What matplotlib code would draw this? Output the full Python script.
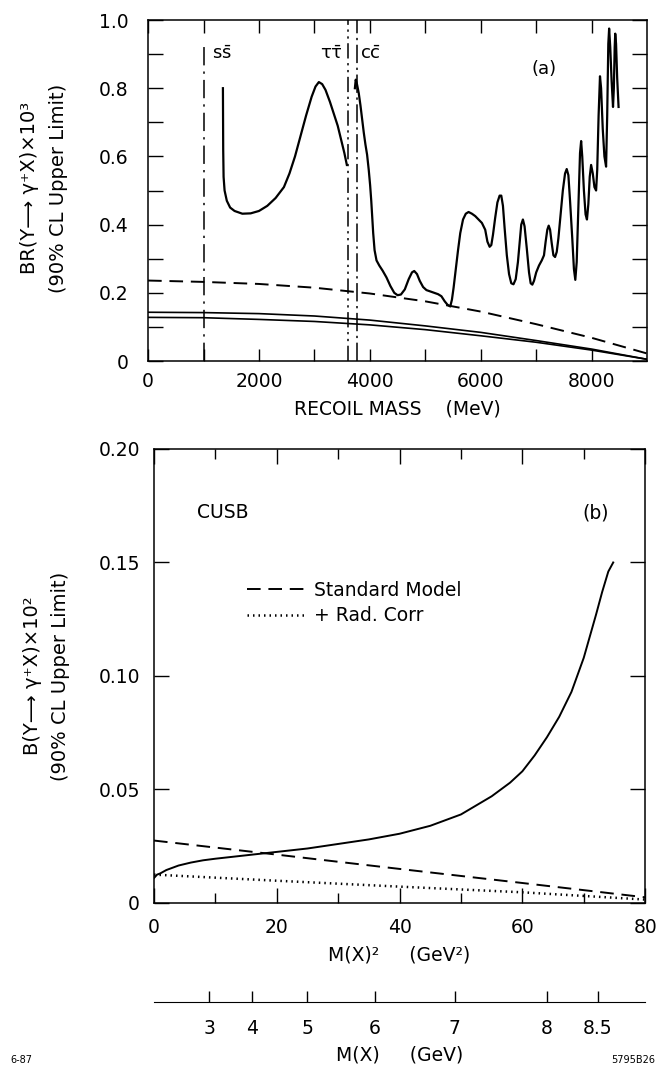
import matplotlib
matplotlib.use('Agg')
import matplotlib.pyplot as plt
import numpy as np

plt.rcParams['font.family'] = ['DejaVu Sans']
plt.rcParams['mathtext.fontset'] = 'dejavusans'

# ---- panel (a): recoil mass spectrum limit ----
# solid limit curve, piece between s-sbar and tau threshold
mass_a1 = [1350, 1355, 1362, 1380, 1420, 1480, 1560, 1700, 1850, 2000, 2150, 2300, 2450, 2550,
           2650, 2750, 2850, 2950, 3020, 3080, 3140, 3200, 3280, 3360, 3420, 3480, 3540, 3585]
br_a1 = [0.80, 0.62, 0.54, 0.50, 0.47, 0.45, 0.44, 0.432, 0.433, 0.44, 0.455, 0.478, 0.51, 0.55,
         0.60, 0.66, 0.72, 0.775, 0.805, 0.818, 0.812, 0.795, 0.76, 0.72, 0.69, 0.65, 0.61, 0.575]

# solid limit curve above c-cbar threshold
mass_a2 = [3730, 3745, 3770, 3800, 3830, 3860, 3890, 3920, 3950, 3980, 4005, 4025, 4040, 4060,
           4085, 4120, 4170, 4230, 4300, 4370, 4440, 4500, 4560, 4630, 4700, 4760, 4800, 4850,
           4900, 4960, 5020, 5090, 5160, 5230, 5290, 5350, 5400, 5450, 5480, 5510, 5550, 5590,
           5630, 5680, 5730, 5780, 5840, 5900, 5960, 6020, 6080, 6120, 6160, 6190, 6220, 6260,
           6300, 6340, 6370, 6400, 6430, 6470, 6510, 6550, 6590, 6630, 6670, 6700, 6730, 6760,
           6790, 6830, 6870, 6900, 6930, 6960, 7000, 7050, 7100, 7140, 7170, 7200, 7225, 7250,
           7280, 7310, 7340, 7370, 7400, 7440, 7480, 7520, 7550, 7580, 7610, 7650, 7680, 7705,
           7730, 7760, 7790, 7810, 7830, 7860, 7890, 7915, 7940, 7965, 7990, 8020, 8050, 8080,
           8100, 8125, 8150, 8170, 8200, 8230, 8260, 8280, 8300, 8315, 8335, 8360, 8385, 8400,
           8415, 8425, 8440, 8460, 8485]
br_a2 = [0.80, 0.825, 0.81, 0.785, 0.75, 0.71, 0.67, 0.635, 0.605, 0.56, 0.515, 0.47, 0.43, 0.375,
         0.325, 0.295, 0.28, 0.265, 0.245, 0.22, 0.20, 0.193, 0.195, 0.21, 0.24, 0.26, 0.264, 0.255,
         0.235, 0.217, 0.208, 0.204, 0.20, 0.196, 0.19, 0.175, 0.165, 0.16, 0.18, 0.215, 0.27, 0.325,
         0.375, 0.415, 0.432, 0.437, 0.432, 0.425, 0.415, 0.405, 0.385, 0.35, 0.335, 0.34, 0.37, 0.42,
         0.465, 0.485, 0.485, 0.455, 0.39, 0.31, 0.255, 0.228, 0.225, 0.24, 0.29, 0.345, 0.40, 0.415,
         0.395, 0.33, 0.26, 0.228, 0.224, 0.235, 0.26, 0.28, 0.295, 0.31, 0.35, 0.385, 0.397, 0.385,
         0.345, 0.31, 0.305, 0.32, 0.36, 0.43, 0.50, 0.55, 0.563, 0.545, 0.47, 0.36, 0.27, 0.238,
         0.29, 0.45, 0.61, 0.645, 0.60, 0.50, 0.43, 0.415, 0.46, 0.54, 0.575, 0.55, 0.51, 0.50,
         0.56, 0.72, 0.835, 0.80, 0.68, 0.60, 0.57, 0.72, 0.93, 0.975, 0.92, 0.82, 0.745, 0.80,
         0.92, 0.96, 0.93, 0.83, 0.745]

# smooth model curves
mass_model = [0, 1000, 2000, 3000, 4000, 5000, 6000, 7000, 8000, 9000]
br_dashed = [0.236, 0.232, 0.226, 0.215, 0.198, 0.175, 0.145, 0.108, 0.068, 0.022]
br_solid_hi = [0.143, 0.142, 0.139, 0.132, 0.120, 0.103, 0.084, 0.060, 0.035, 0.005]
br_solid_lo = [0.128, 0.127, 0.122, 0.116, 0.106, 0.092, 0.074, 0.055, 0.032, 0.005]

# thresholds (MeV)
thresholds = [1000, 3600, 3760]
threshold_labels = [r'$\mathrm{s\bar{s}}$', r'$\mathrm{\tau\bar{\tau}}$', r'$\mathrm{c\bar{c}}$']

# ---- panel (b): limit vs M(X)^2 ----
m2_solid = [0, 0.5, 1, 2, 4, 6, 8, 10, 15, 20, 25, 30, 35, 40, 45, 50, 55, 58, 60, 62, 64,
            66, 68, 70, 72, 73, 74, 74.8]
b_solid = [0.011, 0.0125, 0.013, 0.0145, 0.0165, 0.0178, 0.0188, 0.0195, 0.021, 0.0225, 0.024,
           0.026, 0.028, 0.0305, 0.034, 0.039, 0.047, 0.053, 0.058, 0.065, 0.073, 0.082, 0.093,
           0.108, 0.127, 0.137, 0.146, 0.150]
m2_model = [0, 20, 40, 60, 80]
b_std_model = [0.0275, 0.0213, 0.015, 0.0088, 0.0025]
b_rad_corr = [0.0125, 0.0098, 0.0072, 0.0047, 0.0015]

mx_ticks = [3, 4, 5, 6, 7, 8, 8.5]
mx_ticklabels = ['3', '4', '5', '6', '7', '8', '8.5']

fig = plt.figure(figsize=(6.61, 10.70), dpi=100)

# ---------------- top panel ----------------
ax1 = fig.add_axes([0.224, 0.6626, 0.755, 0.3187])
ax1.plot(mass_a1, br_a1, color='black', lw=1.6)
ax1.plot(mass_a2, br_a2, color='black', lw=1.6)
ax1.plot(mass_model, br_dashed, color='black', lw=1.4, dashes=(7, 4))
ax1.plot(mass_model, br_solid_hi, color='black', lw=1.2)
ax1.plot(mass_model, br_solid_lo, color='black', lw=1.2)

ax1.axvline(thresholds[0], ymax=0.92, color='black', lw=1.1, dashes=(12, 4, 1.5, 4))
ax1.axvline(thresholds[1], color='black', lw=1.1, dashes=(10, 3, 1.5, 3, 1.5, 3))
ax1.axvline(thresholds[2], color='black', lw=1.1, dashes=(12, 3, 1.5, 3))

ax1.text(1150, 0.90, threshold_labels[0], fontsize=13, ha='left', va='center')
ax1.text(3520, 0.90, threshold_labels[1], fontsize=13, ha='right', va='center')
ax1.text(3830, 0.90, threshold_labels[2], fontsize=13, ha='left', va='center')
ax1.text(7140, 0.855, '(a)', fontsize=13, ha='center', va='center')

ax1.set_xlim(0, 9000)
ax1.set_ylim(0, 1.0)
ax1.set_xticks([0, 2000, 4000, 6000, 8000])
ax1.set_xticks(np.arange(1000, 9000, 2000), minor=True)
ax1.set_yticks([0, 0.2, 0.4, 0.6, 0.8, 1.0])
ax1.set_yticklabels(['0', '0.2', '0.4', '0.6', '0.8', '1.0'])
ax1.set_yticks([0.1, 0.3, 0.5, 0.7, 0.9], minor=True)
ax1.tick_params(which='both', direction='in', top=True, right=True, labelsize=13.5, width=1)
ax1.tick_params(which='both', axis='x', length=9, pad=8)
ax1.tick_params(which='both', axis='y', length=11, pad=14)
ax1.set_xlabel('RECOIL MASS    (MeV)', fontsize=13.5, labelpad=6)
fig.text(44 / 661, 1 - 188 / 1070, 'BR(Υ⟶ γ⁺X)×10³\n(90% CL Upper Limit)', rotation=90,
         ha='center', va='center', fontsize=14, linespacing=1.6, multialignment='center')

# ---------------- bottom panel ----------------
ax2 = fig.add_axes([0.233, 0.1561, 0.743, 0.4243])
ax2.plot(m2_solid, b_solid, color='black', lw=1.4)
l_std, = ax2.plot(m2_model, b_std_model, color='black', lw=1.4, dashes=(7, 4))
l_rad, = ax2.plot(m2_model, b_rad_corr, color='black', lw=1.8, dashes=(0.6, 1.6))

ax2.legend([l_std, l_rad], ['Standard Model', '+ Rad. Corr'], loc='upper left',
           bbox_to_anchor=(0.17, 0.73), frameon=False, fontsize=13.5, handlelength=3.2,
           handletextpad=0.4, labelspacing=0.35, borderpad=0)
ax2.text(7, 0.172, 'CUSB', fontsize=13.5, ha='left', va='center')
ax2.text(72, 0.172, '(b)', fontsize=13.5, ha='center', va='center')

ax2.set_xlim(0, 80)
ax2.set_ylim(0, 0.20)
ax2.set_xticks([0, 20, 40, 60, 80])
ax2.set_xticks([10, 30, 50, 70], minor=True)
ax2.set_yticks([0, 0.05, 0.10, 0.15, 0.20])
ax2.set_yticklabels(['0', '0.05', '0.10', '0.15', '0.20'])
ax2.tick_params(which='both', direction='in', top=True, right=True, labelsize=13.5, width=1)
ax2.tick_params(axis='x', which='major', length=11, pad=11)
ax2.tick_params(axis='x', which='minor', length=7)
ax2.tick_params(axis='y', length=11, pad=10)
ax2.set_xlabel('M(X)²     (GeV²)', fontsize=13.5, labelpad=6)
fig.text(47 / 661, 1 - 676 / 1070, 'B(Υ⟶ γ⁺X)×10²\n(90% CL Upper Limit)', rotation=90,
         ha='center', va='center', fontsize=14, linespacing=1.6, multialignment='center')


def m2_to_m(x):
    return np.sqrt(np.clip(x, 0, None))


def m_to_m2(x):
    return np.asarray(x) ** 2


sec = ax2.secondary_xaxis(-0.218, functions=(m2_to_m, m_to_m2))
sec.set_xticks(mx_ticks)
sec.set_xticklabels(mx_ticklabels)
sec.tick_params(direction='in', length=8, width=1, labelsize=13.5, pad=12)
sec.set_xlabel('M(X)     (GeV)', fontsize=13.5, labelpad=6)

for a in (ax1, ax2):
    for s in a.spines.values():
        s.set_linewidth(1.1)

fig.text(10 / 661, 1 - 1060 / 1070, '6-87', fontsize=7, ha='left', va='center')
fig.text(655 / 661, 1 - 1060 / 1070, '5795B26', fontsize=7, ha='right', va='center')

fig.savefig('out.png', dpi=100)
